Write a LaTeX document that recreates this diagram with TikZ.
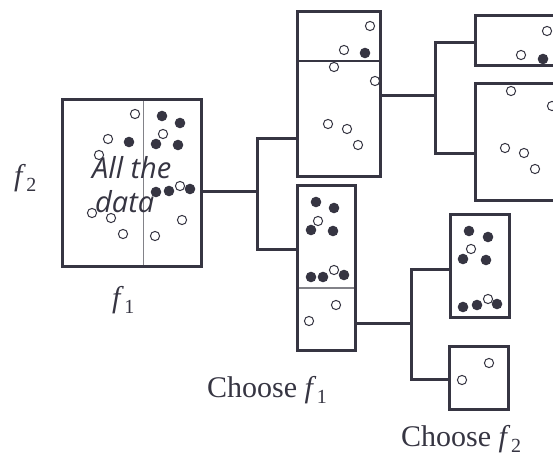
\documentclass[tikz,border=0pt]{standalone}
\usepackage{fontspec}
\setmainfont{Liberation Serif}
\newfontfamily\labfont{Open Sans}
\definecolor{ink}{RGB}{54,53,66}
\definecolor{divgray}{RGB}{130,130,136}
\tikzset{
  boxnode/.style={draw=ink, line width=3pt, inner sep=0pt, outer sep=0pt, fill=white},
  conn/.style={draw=ink, line width=3pt, line cap=rect},
  divline/.style={draw=divgray, line width=1pt},
  odot/.style={draw=ink, line width=1pt, fill=white},
  fdot/.style={fill=ink},
  flabel/.style={anchor=base west, inner sep=0pt, font=\fontsize{30}{32}\selectfont, text=ink},
  datalabel/.style={anchor=base west, inner sep=0pt, text=ink, font=\labfont\itshape\fontsize{29}{32}\selectfont}
}
\newcommand{\od}[2]{\draw[odot] (#1,#2) circle (4.6);}
\newcommand{\fd}[2]{\fill[fdot] (#1,#2) circle (5.3);}
\newcommand{\fsub}[1]{\textit{f}\kern0.5pt\raisebox{-6pt}{\fontsize{20}{20}\selectfont #1}}
\begin{document}
\begin{tikzpicture}[x=1pt,y=-1pt]
\useasboundingbox (0,0) rectangle (553,457);
\clip (0,0) rectangle (553,457);

% junction / attachment coordinates
\coordinate (j1) at (257,191);
\coordinate (a1t) at (297,139);
\coordinate (a1b) at (297,249);
\coordinate (j2) at (435,96);
\coordinate (a2t) at (475,43);
\coordinate (a2b) at (475,153);
\coordinate (j3) at (411,323);
\coordinate (a3t) at (450,269);
\coordinate (a3b) at (449,379);

% boxes
\node[boxnode, minimum width=139pt, minimum height=166pt] (b1) at (131.5,183) {};
\node[boxnode, minimum width=83pt, minimum height=164pt] (b2) at (338.5,94) {};
\node[boxnode, minimum width=140pt, minimum height=50pt] (b3) at (545,41) {};
\node[boxnode, minimum width=140pt, minimum height=116pt] (b4) at (545,142) {};
\node[boxnode, minimum width=58pt, minimum height=165pt] (b5) at (326,267.5) {};
\node[boxnode, minimum width=59pt, minimum height=103pt] (b6) at (479.5,265.5) {};
\node[boxnode, minimum width=59pt, minimum height=63pt] (b7) at (478.5,377.5) {};

% dividers
\draw[divline] (143,101.5) -- (143,264.5);
\draw[draw=ink, line width=1.2pt] (298.5,61) -- (378.5,61);
\draw[divline, line width=1.3pt] (298.5,288) -- (353.5,288);

% connectors
\coordinate (o1) at (b1.east |- j1);
\draw[conn] (o1) -- (j1);
\draw[conn] (a1t) -| (j1) |- (a1b);
\coordinate (o2) at (b2.east |- j2);
\draw[conn] (o2) -- (j2);
\draw[conn] (a2t) -| (j2) |- (a2b);
\coordinate (o3) at (b5.east |- j3);
\draw[conn] (o3) -- (j3);
\draw[conn] (a3t) -| (j3) |- (a3b);

% dots: main box
\od{135}{114} \fd{162}{116} \fd{180}{123}
\od{108}{139} \fd{129}{142} \fd{156}{144} \od{163}{134} \fd{178}{145}
\od{99}{155}
\fd{156}{192} \fd{169}{191} \fd{190}{189} \od{180}{186}
\od{92}{213} \od{111}{218} \od{182}{220}
\od{123}{234} \od{155}{236}

% box 2
\od{370}{26} \od{344}{50} \fd{365}{53}
\od{334}{67} \od{375}{81}
\od{328}{124} \od{347}{129} \od{358}{145}

% box 3
\od{547}{31} \od{521}{55} \fd{543}{59}
\draw[draw=ink, line width=3pt] (473.5,66) -- (560,66);

% box 4
\od{511}{91} \od{552}{106} \od{505}{148} \od{524}{153} \od{535}{169}

% box 5
\fd{316}{202} \fd{334}{208} \fd{311}{230} \od{318}{221} \fd{333}{231}
\fd{311}{277} \fd{323}{277} \fd{344}{275} \od{334}{270}
\od{336}{305} \od{309}{321}

% box 6
\fd{469}{231} \fd{488}{237} \fd{463}{259} \od{471}{249} \fd{486}{260}
\fd{463}{307} \fd{477}{305} \fd{497}{304} \od{488}{299}

% box 7
\od{489}{363} \od{462}{380}

% texts
\node[datalabel] (t1) at (92,178) {All the};
\node[datalabel] (t2) at (95,212) {data};
\node[flabel] (lf2) at (14,185) {\fsub{2}};
\node[flabel] (lf1) at (112,307) {\fsub{1}};
\node[flabel] (ch1) at (207,397) {Choose \fsub{1}};
\node[flabel] (ch2) at (401,446) {Choose \fsub{2}};
\end{tikzpicture}
\end{document}
